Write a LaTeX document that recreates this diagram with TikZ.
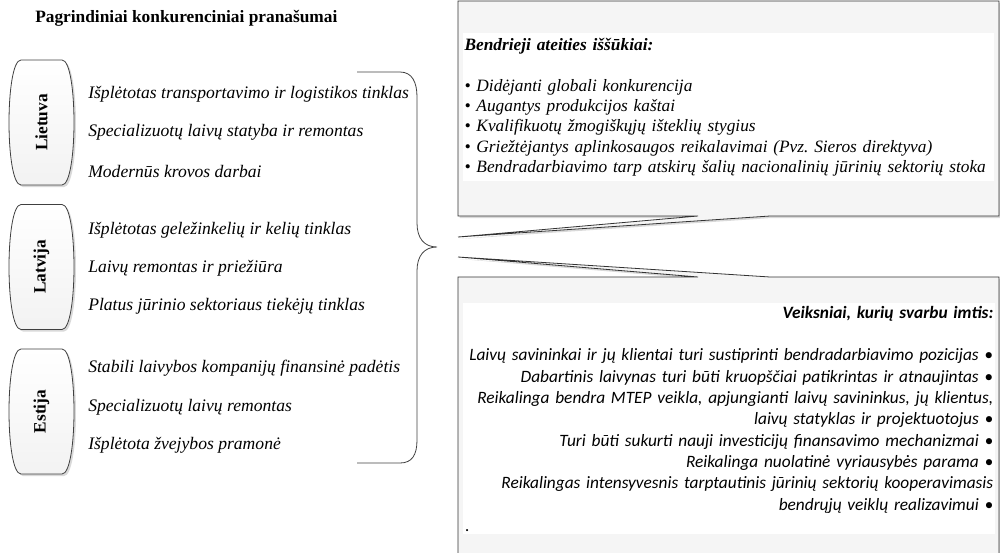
\documentclass[tikz,border=0pt]{standalone}
\usepackage{fontspec}
\setmainfont{Liberation Serif}
\newfontfamily\calibri{Carlito}
\usepackage{tikz}
\usetikzlibrary{shadows}

\begin{document}
\frenchspacing
\begin{tikzpicture}[x=0.75pt,y=-0.75pt,
	pillshape/.style={draw=black!75,line width=0.6pt,top color=white,bottom color=gray!10,drop shadow={shadow xshift=1.5pt,shadow yshift=-1.5pt,opacity=0.3}},
	pilltext/.style={inner sep=0pt,font=\fontsize{13}{15}\selectfont\bfseries},
	item/.style={anchor=west,inner sep=0pt,font=\fontsize{13.2}{15}\selectfont\itshape},
	callout/.style={draw=black!80,line width=0.6pt,fill=gray!8,drop shadow={shadow xshift=1.2pt,shadow yshift=-1.5pt,opacity=0.3}},
	textblock/.style={anchor=north west,fill=white,inner ysep=0pt}]
				\useasboundingbox (0,0) rectangle (1000,553);
				\clip (0,0) rectangle (1000,553);
				\node (title) at (35,18) [anchor=west,inner sep=0pt,font=\fontsize{13}{15}\selectfont\bfseries] {Pagrindiniai konkurenciniai pranašumai};
				\foreach \n/\y/\t in {LT/122.5/Lietuva,LV/267/Latvija,EE/411.5/Estija}{
					\draw[pillshape] (21,\y-62.5) -- (62,\y-62.5) .. controls (78,\y-62.5) and (78,\y+62.5) .. (62,\y+62.5) -- (21,\y+62.5) .. controls (5,\y+62.5) and (5,\y-62.5) .. cycle;
					\node (\n) at (41.5,\y) [pilltext] {\rotatebox{90}{\t}};
				}
				\node (lt1) at (88,94) [item] {Išplėtotas transportavimo ir logistikos tinklas};
				\node (lt2) at (88,132) [item] {Specializuotų laivų statyba ir remontas};
				\node (lt3) at (88,171) [item] {Modernūs krovos darbai};
				\node (lv1) at (88,230) [item] {Išplėtotas geležinkelių ir kelių tinklas};
				\node (lv2) at (88,268) [item] {Laivų remontas ir priežiūra};
				\node (lv3) at (88,306) [item] {Platus jūrinio sektoriaus tiekėjų tinklas};
				\node (ee1) at (88,368) [item] {Stabili laivybos kompanijų finansinė padėtis};
				\node (ee2) at (88,407) [item] {Specializuotų laivų remontas};
				\node (ee3) at (88,445) [item] {Išplėtota žvejybos pramonė};
				\coordinate (tip) at (437,247);
				\draw[black!75,line width=0.6pt] (357,72) -- (400,72) .. controls (412,72) and (417,82) .. (417,97) -- (417,223) .. controls (417,238) and (424,247) .. (tip) .. controls (424,247) and (417,256) .. (417,271) -- (417,440) .. controls (417,455) and (412,463) .. (400,463) -- (357,463);
				\draw[callout] (458,1) -- (999,1) -- (999,216) -- (770,216) -- (458,237) -- (698,216) -- (458,216) -- cycle;
				\draw[callout] (458,560) -- (458,277) -- (698,277) -- (458,257) -- (770,277) -- (999,277) -- (999,560) -- cycle;
				\node (challenges) at (463,33) [textblock,inner xsep=1pt,inner ysep=4pt,text width=396pt,align=left,font=\fontsize{13}{15.2}\selectfont\itshape] {\textbf{Bendrieji ateities iššūkiai:}\\[15.2pt]
					• Didėjanti globali konkurencija\\
					• Augantys produkcijos kaštai\\
					• Kvalifikuotų žmogiškųjų išteklių stygius\\
					• Griežtėjantys aplinkosaugos reikalavimai (Pvz. Sieros direktyva)\\
					• Bendradarbiavimo tarp atskirų šalių nacionalinių jūrinių sektorių stoka};
				\node (actions) at (463,303) [textblock,inner xsep=1.5pt,inner ysep=2pt,text width=396pt,align=right,font=\calibri\fontsize{13}{16}\selectfont\itshape] {\textbf{Veiksniai, kurių svarbu imtis:}\\[16pt]
					Laivų savininkai ir jų klientai turi sustiprinti bendradarbiavimo pozicijas •\\
					Dabartinis laivynas turi būti kruopščiai patikrintas ir atnaujintas •\\
					Reikalinga bendra MTEP veikla, apjungianti laivų savininkus, jų klientus,\\
					laivų statyklas ir projektuotojus •\\
					Turi būti sukurti nauji investicijų finansavimo mechanizmai •\\
					Reikalinga nuolatinė vyriausybės parama •\\
					Reikalingas intensyvesnis tarptautinis jūrinių sektorių kooperavimasis\\
					bendrųjų veiklų realizavimui •\\
					\makebox[\linewidth][l]{.}};
			\end{tikzpicture}
\end{document}
